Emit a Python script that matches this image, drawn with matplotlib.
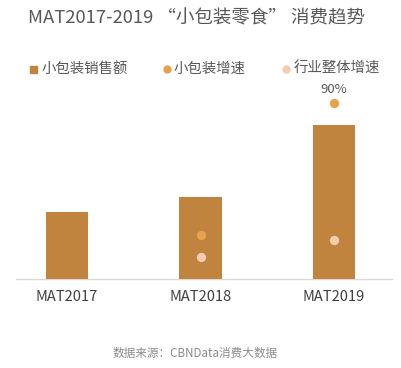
import matplotlib.pyplot as plt

plt.rcParams['font.family'] = ['Noto Sans CJK SC', 'DejaVu Sans']

years = ['MAT2017', 'MAT2018', 'MAT2019']
sales = [67, 82, 154]            # 小包装销售额 (relative)
pack_growth = [None, 22.5, 90]   # 小包装增速 %
industry_growth = [None, 11, 20]  # 行业整体增速 %

bar_color = '#C0843E'
growth_color = '#E9A24C'
industry_color = '#F4CDB0'

fig = plt.figure(figsize=(4.01, 3.68), dpi=100)
ax = fig.add_axes([0, 1 - 279 / 368, 1, 199 / 368])
ax.set_xlim((0 - 67) / 133.5, (401 - 67) / 133.5)
ax.set_ylim(0, 199)

x = list(range(len(years)))
ax.bar(x, sales, width=0.315, color=bar_color, zorder=2)

ax2 = ax.twinx()
ax2.set_ylim(0, 90 * 199 / 176)
gx = [i for i, v in enumerate(pack_growth) if v is not None]
ax2.scatter(gx, [pack_growth[i] for i in gx], s=45, color=growth_color, zorder=3, linewidths=0)
ix = [i for i, v in enumerate(industry_growth) if v is not None]
ax2.scatter(ix, [industry_growth[i] for i in ix], s=45, color=industry_color, zorder=3, linewidths=0)
ax2.annotate('90%', (2, pack_growth[2]), xytext=(0, 5), textcoords='offset points',
             ha='center', va='bottom', fontsize=9.5, color='#595959')

for a in (ax, ax2):
    for s in a.spines.values():
        s.set_visible(False)
    a.set_yticks([])
ax2.set_xticks([])

ax.set_xticks(x)
ax.set_xticklabels(years, fontsize=10.5, color='#404040')
ax.tick_params(axis='x', length=0, pad=8)
ax.plot([(16 - 67) / 133.5, (392 - 67) / 133.5], [0, 0], color='#D9D9D9', lw=1,
        clip_on=False, zorder=1)

fig.text(28 / 401, 1 - 18 / 368, 'MAT2017-2019 “小包装零食” 消费趋势',
         fontsize=13.3, color='#595959', va='center', ha='left')

# legend
fig.patches.append(plt.Rectangle((30 / 401, 1 - 73 / 368), 7 / 401, 7 / 368,
                                 transform=fig.transFigure, color=bar_color))
fig.text(42 / 401, 1 - 69 / 368, '小包装销售额', fontsize=10.4, color='#595959', va='center')
fig.lines.append(plt.Line2D([167 / 401], [1 - 69 / 368], marker='o', ms=6,
                            color=growth_color, mew=0, transform=fig.transFigure))
fig.text(174 / 401, 1 - 69 / 368, '小包装增速', fontsize=10.4, color='#595959', va='center')
fig.lines.append(plt.Line2D([286 / 401], [1 - 69 / 368], marker='o', ms=6,
                            color=industry_color, mew=0, transform=fig.transFigure))
fig.text(294 / 401, 1 - 69 / 368, '行业整体增速', fontsize=10.4, color='#595959', va='center')

fig.text(195 / 401, 1 - 353 / 368, '数据来源：CBNData消费大数据', fontsize=8.4,
         color='#8C8C8C', ha='center', va='center')

fig.savefig('out.png', dpi=100)
